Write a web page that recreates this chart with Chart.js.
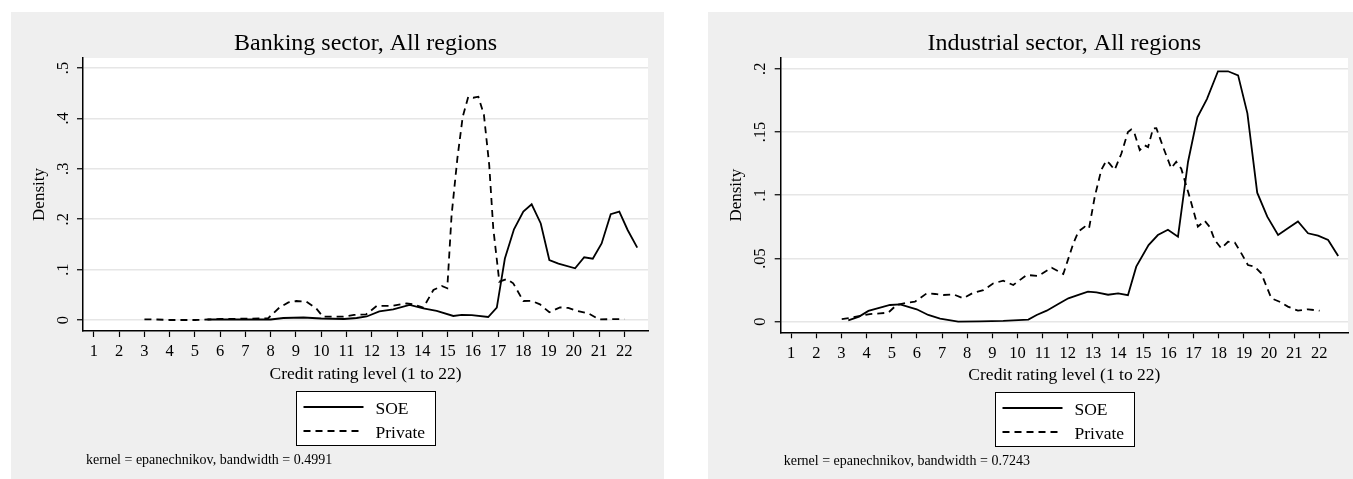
<!DOCTYPE html>
<html>
<head>
<meta charset="utf-8">
<title>Credit rating densities</title>
<script src="https://cdn.jsdelivr.net/npm/chart.js@4.4.1/dist/chart.umd.min.js"></script>
<style>
  body { margin: 0; background: #fff; width: 1353px; height: 479px; overflow: hidden; position: relative; }
  .panel { position: absolute; background: #efefef; }
  #bank-panel { left: 11px; top: 12px; width: 653px; height: 467px; }
  #ind-panel { left: 708px; top: 12px; width: 645px; height: 467px; }
</style>
</head>
<body>
<div class="panel" id="bank-panel"><canvas id="bank-chart" width="653" height="467"></canvas></div>
<div class="panel" id="ind-panel"><canvas id="ind-chart" width="645" height="467"></canvas></div>
<script>
// Values (x = rating level, y = density)
const bankSoeX = [5.5, 6.5, 7.5, 8.0, 8.5, 9.3, 10.0, 10.9, 11.4, 11.8, 12.3, 12.85, 13.5, 14.04, 14.57, 15.23, 15.56, 15.96, 16.61, 16.95, 17.27, 17.63, 18.0, 18.33, 18.69, 19.03, 19.39, 20.05, 20.41, 20.75, 21.1, 21.46, 21.8, 22.13, 22.51];
const bankSoeY = [0.001, 0.001, 0.001, 0.001, 0.004, 0.005, 0.003, 0.002, 0.004, 0.007, 0.017, 0.021, 0.030, 0.023, 0.018, 0.008, 0.010, 0.0097, 0.006, 0.0245, 0.122, 0.18, 0.215, 0.2295, 0.1915, 0.119, 0.112, 0.1025, 0.1245, 0.1217, 0.152, 0.21, 0.215, 0.1786, 0.1435];

const bankPrivX = [3.0, 3.5, 4.0, 5.0, 5.5, 6.0, 7.0, 7.89, 8.35, 8.7, 9.01, 9.41, 9.8, 10.07, 10.86, 11.3, 11.78, 12.2, 12.79, 13.38, 13.64, 14.04, 14.44, 14.77, 14.99, 15.16, 15.39, 15.6, 15.82, 16.02, 16.22, 16.44, 16.65, 16.81, 17.05, 17.34, 17.6, 18.0, 18.33, 18.66, 19.03, 19.45, 19.78, 20.11, 20.57, 21.0, 21.43, 22.0];
const bankPrivY = [0.0014, 0.001, 0, 0, 0.001, 0.002, 0.0026, 0.0033, 0.025, 0.035, 0.0377, 0.0363, 0.023, 0.0066, 0.0066, 0.010, 0.0113, 0.028, 0.028, 0.033, 0.031, 0.0245, 0.0595, 0.0675, 0.063, 0.208, 0.321, 0.403, 0.443, 0.441, 0.443, 0.407, 0.3075, 0.182, 0.076, 0.0813, 0.0728, 0.0377, 0.038, 0.031, 0.0153, 0.025, 0.024, 0.0185, 0.0133, 0.0014, 0.0016, 0.0016];

const indSoeX = [3.27, 3.7, 4.07, 4.5, 4.93, 5.33, 5.99, 6.45, 6.92, 7.64, 8.5, 9.43, 10.43, 10.76, 11.16, 11.62, 12.02, 12.48, 12.8, 13.14, 13.6, 14.0, 14.39, 14.72, 15.21, 15.58, 15.98, 16.38, 16.78, 17.15, 17.53, 17.97, 18.37, 18.77, 19.14, 19.53, 19.93, 20.36, 20.75, 21.15, 21.55, 21.95, 22.35, 22.75];
const indSoeY = [0.001, 0.004, 0.0085, 0.011, 0.0132, 0.0137, 0.0098, 0.0053, 0.0024, 0, 0.0003, 0.0006, 0.0016, 0.0053, 0.0087, 0.014, 0.0185, 0.0216, 0.0237, 0.0231, 0.0213, 0.0224, 0.0209, 0.0435, 0.0606, 0.0685, 0.0727, 0.0672, 0.1265, 0.1616, 0.176, 0.198, 0.198, 0.1948, 0.1647, 0.102, 0.083, 0.0685, 0.0738, 0.0793, 0.0699, 0.068, 0.0646, 0.052];

const indPrivX = [3.01, 3.34, 3.74, 4.13, 4.53, 4.86, 5.19, 5.59, 5.92, 6.39, 6.72, 7.05, 7.45, 7.84, 8.24, 8.64, 9.04, 9.43, 9.83, 10.36, 10.83, 11.36, 11.82, 12.22, 12.42, 12.67, 12.84, 13.07, 13.33, 13.53, 13.66, 13.86, 14.13, 14.39, 14.52, 14.65, 14.86, 15.06, 15.19, 15.39, 15.52, 15.79, 16.11, 16.31, 16.51, 16.84, 17.17, 17.44, 17.64, 17.84, 18.1, 18.37, 18.64, 18.9, 19.16, 19.43, 19.69, 20.09, 20.42, 20.75, 21.15, 21.55, 22.01];
const indPrivY = [0.0021, 0.003, 0.0045, 0.006, 0.0066, 0.0071, 0.0132, 0.015, 0.0158, 0.0224, 0.0219, 0.0211, 0.0216, 0.0185, 0.0229, 0.025, 0.0303, 0.0324, 0.029, 0.0369, 0.0362, 0.0427, 0.0377, 0.062, 0.0712, 0.0751, 0.0735, 0.0988, 0.12, 0.1273, 0.125, 0.12, 0.133, 0.150, 0.152, 0.149, 0.1357, 0.1394, 0.138, 0.1529, 0.153, 0.138, 0.1213, 0.1265, 0.121, 0.0988, 0.0751, 0.0798, 0.075, 0.0646, 0.058, 0.0632, 0.0625, 0.054, 0.0448, 0.0435, 0.0383, 0.0185, 0.0158, 0.0119, 0.0087, 0.0098, 0.0087];

const xTicks = [1, 2, 3, 4, 5, 6, 7, 8, 9, 10, 11, 12, 13, 14, 15, 16, 17, 18, 19, 20, 21, 22];
const bankYTicks = [0, 0.1, 0.2, 0.3, 0.4, 0.5];
const bankYLabels = ['0', '.1', '.2', '.3', '.4', '.5'];
const indYTicks = [0, 0.05, 0.1, 0.15, 0.2];
const indYLabels = ['0', '.05', '.1', '.15', '.2'];
const seriesNames = ['SOE', 'Private'];

const SERIF = '"Liberation Serif", "DejaVu Serif", serif';
const DASH = [7, 5];

function toPoints(xs, ys) {
    return xs.map((x, i) => ({ x: x, y: ys[i] }));
}

// Stata-like frame: gray page, white plot region, title, boxed legend, note
const stataFrame = {
    id: 'stataFrame',
    beforeDraw(chart) {
        const ctx = chart.ctx;
        const a = chart.chartArea;
        ctx.save();
        ctx.fillStyle = '#efefef';
        ctx.fillRect(0, 0, chart.width, chart.height);
        ctx.fillStyle = '#ffffff';
        ctx.fillRect(a.left, a.top, a.right - a.left, a.bottom - a.top);
        ctx.restore();
    },
    afterDraw(chart, args, opts) {
        const ctx = chart.ctx;
        const a = chart.chartArea;
        const cx = (a.left + a.right) / 2;
        ctx.save();
        ctx.fillStyle = '#000';
        ctx.font = '24px ' + SERIF;
        ctx.textAlign = 'center';
        ctx.textBaseline = 'alphabetic';
        ctx.fillText(opts.title, cx, a.top - 8);

        const bw = 139, bh = 54;
        const bx = Math.round(cx - bw / 2) + 0.5;
        const by = Math.round(a.bottom + 60) + 0.5;
        ctx.fillStyle = '#fff';
        ctx.fillRect(bx, by, bw, bh);
        ctx.strokeStyle = '#000';
        ctx.lineWidth = 1;
        ctx.strokeRect(bx, by, bw, bh);
        chart.data.datasets.forEach((ds, i) => {
            const ly = by + 15.5 + i * 24;
            ctx.beginPath();
            ctx.setLineDash(ds.borderDash || []);
            ctx.lineWidth = ds.borderWidth;
            ctx.moveTo(bx + 7, ly);
            ctx.lineTo(bx + 67, ly);
            ctx.stroke();
            ctx.setLineDash([]);
            ctx.fillStyle = '#000';
            ctx.font = '17.5px ' + SERIF;
            ctx.textAlign = 'left';
            ctx.fillText(ds.label, bx + 79, ly + 6.5);
        });

        ctx.font = '14px ' + SERIF;
        ctx.textAlign = 'left';
        ctx.fillText(opts.note, a.left + 3, a.bottom + 133);
        ctx.restore();
    }
};

function makeChart(canvasId, cfg) {
    const ctx = document.getElementById(canvasId).getContext('2d');
    return new Chart(ctx, {
        type: 'scatter',
        data: {
            datasets: [{
                label: seriesNames[0],
                data: toPoints(cfg.soeX, cfg.soeY),
                showLine: true,
                borderColor: '#000',
                borderWidth: 1.8,
                pointRadius: 0,
                tension: 0
            }, {
                label: seriesNames[1],
                data: toPoints(cfg.privX, cfg.privY),
                showLine: true,
                borderColor: '#000',
                borderWidth: 1.8,
                borderDash: DASH,
                pointRadius: 0,
                tension: 0
            }]
        },
        options: {
            responsive: false,
            devicePixelRatio: 1,
            animation: false,
            events: [],
            layout: {
                padding: { left: 0, top: cfg.top, right: cfg.rightPad, bottom: cfg.bottomPad }
            },
            plugins: {
                legend: { display: false },
                tooltip: { enabled: false },
                stataFrame: { title: cfg.title, note: cfg.note }
            },
            scales: {
                x: {
                    type: 'linear',
                    position: 'bottom',
                    min: cfg.xMin,
                    max: cfg.xMax,
                    afterBuildTicks: axis => { axis.ticks = xTicks.map(v => ({ value: v })); },
                    afterFit: scale => { scale.height = cfg.xAxisHeight; },
                    ticks: {
                        autoSkip: false,
                        maxRotation: 0,
                        padding: 5,
                        color: '#000',
                        font: { family: SERIF, size: 16.5 },
                        callback: v => String(v)
                    },
                    grid: { drawOnChartArea: false, drawTicks: true, tickLength: 6, tickColor: '#000', tickWidth: 1.2 },
                    border: { display: true, color: '#000', width: 1.5 },
                    title: {
                        display: true,
                        text: 'Credit rating level (1 to 22)',
                        color: '#000',
                        font: { family: SERIF, size: 17.5 },
                        padding: { top: 0, bottom: 0 }
                    }
                },
                y: {
                    type: 'linear',
                    min: cfg.yMin,
                    max: cfg.yMax,
                    afterBuildTicks: axis => { axis.ticks = cfg.yTicks.map(v => ({ value: v })); },
                    afterFit: scale => { scale.width = cfg.left; },
                    ticks: {
                        minRotation: 90,
                        maxRotation: 90,
                        crossAlign: 'center',
                        padding: cfg.yTickPad,
                        color: '#000',
                        font: { family: SERIF, size: 16.5 },
                        callback: (v, i) => cfg.yLabels[i]
                    },
                    grid: { color: '#e6e6e6', lineWidth: 1.5, drawTicks: true, tickLength: 6, tickColor: '#000', tickWidth: 1.2 },
                    border: { display: true, color: '#000', width: 1.5 },
                    title: {
                        display: true,
                        text: 'Density',
                        color: '#000',
                        font: { family: SERIF, size: 17 },
                        padding: { top: 18, bottom: 0 }
                    }
                }
            }
        },
        plugins: [stataFrame]
    });
}

makeChart('bank-chart', {
    soeX: bankSoeX, soeY: bankSoeY, privX: bankPrivX, privY: bankPrivY,
    title: 'Banking sector, All regions',
    note: 'kernel = epanechnikov, bandwidth = 0.4991',
    xMin: 0.568, xMax: 22.936, yMin: -0.0218, yMax: 0.5198,
    yTicks: bankYTicks, yLabels: bankYLabels, yTickPad: 7,
    left: 72, top: 46, rightPad: 16, xAxisHeight: 53.5, bottomPad: 94.5
});

makeChart('ind-chart', {
    soeX: indSoeX, soeY: indSoeY, privX: indPrivX, privY: indPrivY,
    title: 'Industrial sector, All regions',
    note: 'kernel = epanechnikov, bandwidth = 0.7243',
    xMin: 0.5825, xMax: 23.14, yMin: -0.0084, yMax: 0.2085,
    yTicks: indYTicks, yLabels: indYLabels, yTickPad: 3.5,
    left: 72.7, top: 46, rightPad: 5, xAxisHeight: 53.5, bottomPad: 93.2
});
</script>
</body>
</html>
